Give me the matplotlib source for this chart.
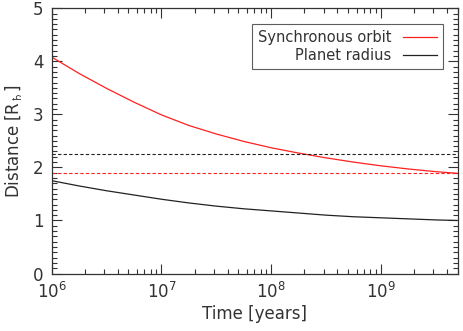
import matplotlib
matplotlib.use("Agg")
import matplotlib.pyplot as plt
from matplotlib.ticker import LogLocator, MultipleLocator, NullFormatter

# Data
time_years = [1.0e6, 1.78e6, 3.16e6, 5.62e6, 1.0e7, 1.78e7, 3.16e7, 5.62e7,
              1.0e8, 1.78e8, 3.16e8, 5.62e8, 1.0e9, 1.78e9, 3.16e9, 4.88e9]
sync_orbit = [4.08, 3.77, 3.49, 3.23, 2.99, 2.79, 2.63, 2.49,
              2.37, 2.27, 2.18, 2.10, 2.03, 1.97, 1.92, 1.89]
planet_radius = [1.75, 1.65, 1.56, 1.48, 1.40, 1.33, 1.27, 1.22,
                 1.18, 1.14, 1.10, 1.07, 1.05, 1.03, 1.01, 1.00]
black_dashed_level = 2.25
red_dashed_level = 1.89

plt.rcParams['font.family'] = ['DejaVu Sans']

fig = plt.figure(figsize=(4.63, 3.31), dpi=100)
ax = fig.add_axes([0.1117, 0.1737, 0.8768, 0.8013])

red = '#ff2020'
dark = '#222222'
ax.plot(time_years, sync_orbit, color=red, lw=0.9, label='Synchronous orbit')
ax.plot(time_years, planet_radius, color=dark, lw=0.9, label='Planet radius')
ax.axhline(black_dashed_level, color=dark, lw=0.8, ls=(0, (3, 2)))
ax.axhline(red_dashed_level, color=red, lw=0.8, ls=(0, (3, 2)))

ax.set_xscale('log')
ax.set_xlim(1e6, 5e9)
ax.set_ylim(0, 5)

ax.xaxis.set_major_locator(LogLocator(base=10, numticks=10))
ax.xaxis.set_minor_locator(LogLocator(base=10, subs=range(2, 10), numticks=20))
ax.xaxis.set_minor_formatter(NullFormatter())
ax.yaxis.set_major_locator(MultipleLocator(1))
ax.yaxis.set_minor_locator(MultipleLocator(0.1))

ax.tick_params(which='both', direction='in', top=True, right=True,
               labelsize=12, colors='#333333', width=0.8)
ax.tick_params(which='major', length=7, pad=6)
ax.tick_params(which='minor', length=3.5)
for s in ax.spines.values():
    s.set_linewidth(0.9)
    s.set_color('#333333')

ax.set_xlabel('Time [years]', fontsize=12, color='#333333', labelpad=2)
ax.set_ylabel('Distance [R$_{\u2644}$]', fontsize=12, color='#333333', labelpad=6)

leg = ax.legend(loc='upper right', bbox_to_anchor=(0.963, 0.94), fontsize=10.5,
                frameon=True, fancybox=False, markerfirst=False,
                handlelength=2.3, borderpad=0.4, labelspacing=0.2,
                handletextpad=0.8, borderaxespad=0)
leg.get_frame().set_edgecolor('#333333')
leg.get_frame().set_linewidth(0.8)
for t in leg.get_texts():
    t.set_ha('right')
    t.set_color('#333333')
leg._legend_box.align = 'right'

fig.savefig('out.png', dpi=100)
